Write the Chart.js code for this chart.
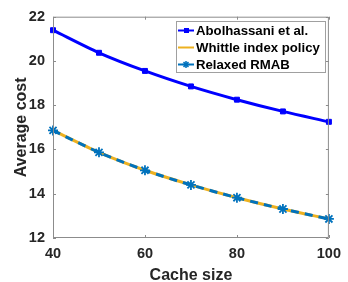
<!DOCTYPE html>
<html>
<head>
<meta charset="utf-8">
<script src="https://cdn.jsdelivr.net/npm/chart.js@4"></script>
<style>
  html, body { margin: 0; padding: 0; background: #fff; }
  #wrap { width: 348px; height: 282px; }
</style>
</head>
<body>
<div id="wrap"><canvas id="costChart" width="348" height="282"></canvas></div>
<script>
const cacheSizes = [40, 50, 60, 70, 80, 90, 100];
const abolhassaniCost = [21.39, 20.37, 19.55, 18.85, 18.25, 17.72, 17.25];
const whittleCost = [16.86, 15.87, 15.06, 14.4, 13.82, 13.31, 12.86];
const relaxedCost = [16.86, 15.87, 15.06, 14.4, 13.82, 13.31, 12.86];
const xTicks = [40, 60, 80, 100];
const yTicks = [12, 14, 16, 18, 20, 22];

const axisColor = "#8c8c8c";
const textColor = "#262626";
const fontFamily = "'Liberation Sans', Arial, sans-serif";

// box round the plot and MATLAB style inward ticks
const boxPlugin = {
  id: "box",
  afterDatasetsDraw(chart) {
    const { ctx, chartArea: a, scales } = chart;
    ctx.save();
    ctx.strokeStyle = axisColor;
    ctx.lineWidth = 1;
    ctx.beginPath();
    ctx.moveTo(a.left + 0.5, a.top + 0.5);
    ctx.lineTo(a.right - 0.5, a.top + 0.5);
    ctx.lineTo(a.right - 0.5, a.bottom - 0.5);
    ctx.moveTo(a.left + 0.5, a.top + 0.5);
    ctx.lineTo(a.left + 0.5, a.bottom - 0.5);
    ctx.lineTo(a.right - 0.5, a.bottom - 0.5);
    xTicks.forEach(v => {
      const x = Math.round(scales.x.getPixelForValue(v)) + 0.5;
      ctx.moveTo(x, a.bottom); ctx.lineTo(x, a.bottom - 3);
      ctx.moveTo(x, a.top); ctx.lineTo(x, a.top + 3);
    });
    yTicks.forEach(v => {
      const y = Math.round(scales.y.getPixelForValue(v)) + 0.5;
      ctx.moveTo(a.left, y); ctx.lineTo(a.left + 3, y);
      ctx.moveTo(a.right, y); ctx.lineTo(a.right - 3, y);
    });
    ctx.stroke();
    ctx.restore();
  }
};

const legendPlugin = {
  id: "boxLegend",
  afterDraw(chart) {
    const { ctx } = chart;
    const rows = [
      { label: "Abolhassani et al.", color: "#0000ff", marker: "rect" },
      { label: "Whittle index policy", color: "#edb120", marker: null },
      { label: "Relaxed RMAB", color: "#0072bd", marker: "star" }
    ];
    ctx.save();
    ctx.fillStyle = "#fff";
    ctx.fillRect(176, 21, 150, 52);
    ctx.strokeStyle = "#a0a0a0";
    ctx.lineWidth = 1;
    ctx.strokeRect(176.5, 21.5, 149, 51);
    rows.forEach((r, i) => {
      const y = 30.5 + i * 17;
      ctx.strokeStyle = r.color;
      ctx.fillStyle = r.color;
      ctx.lineWidth = 2;
      ctx.beginPath();
      ctx.moveTo(178, y);
      ctx.lineTo(194, y);
      ctx.stroke();
      if (r.marker === "rect") ctx.fillRect(184, y - 2.5, 5, 5);
      if (r.marker === "star") {
        ctx.lineWidth = 1.5;
        Chart.helpers.drawPoint(ctx, { pointStyle: "star", radius: 3.5, borderWidth: 1.5 }, 186, y);
      }
      ctx.fillStyle = "#000";
      ctx.font = "bold 13.2px " + fontFamily;
      ctx.textBaseline = "middle";
      ctx.fillText(r.label, 196, y + 0.5);
    });
    ctx.restore();
  }
};

new Chart(document.getElementById("costChart"), {
  type: "line",
  data: {
    labels: cacheSizes,
    datasets: [
      {
        label: "Abolhassani et al.",
        data: abolhassaniCost,
        borderColor: "#0000ff",
        backgroundColor: "#0000ff",
        borderWidth: 3,
        pointStyle: "rect",
        pointRadius: 3.5,
        pointBorderWidth: 1,
        tension: 0.3,
        order: 0
      },
      {
        label: "Whittle index policy",
        data: whittleCost,
        borderColor: "#edb120",
        backgroundColor: "#edb120",
        borderWidth: 3,
        pointRadius: 0,
        tension: 0.3,
        order: 2
      },
      {
        label: "Relaxed RMAB",
        data: relaxedCost,
        borderColor: "#0072bd",
        backgroundColor: "#0072bd",
        borderWidth: 3,
        borderDash: [8, 6],
        pointStyle: "star",
        pointRadius: 5,
        pointBorderWidth: 1.8,
        tension: 0.3,
        order: 1
      }
    ]
  },
  options: {
    responsive: false,
    animation: false,
    clip: false,
    layout: { padding: { left: 0, right: 13, top: 12, bottom: 0 } },
    plugins: { legend: { display: false }, tooltip: { enabled: false } },
    scales: {
      x: {
        type: "linear",
        min: 40,
        max: 100,
        afterFit: s => { s.height = 44; },
        afterBuildTicks: s => { s.ticks = xTicks.map(v => ({ value: v })); },
        grid: { display: false, drawTicks: false },
        border: { display: false },
        ticks: {
          color: textColor,
          padding: 7,
          maxRotation: 0,
          font: { family: fontFamily, size: 14.5, weight: "bold" }
        },
        title: {
          display: true,
          text: "Cache size",
          color: textColor,
          padding: { top: 0, bottom: -3 },
          font: { family: fontFamily, size: 16, weight: "bold" }
        }
      },
      y: {
        min: 12,
        max: 22,
        afterFit: s => { s.width = 53; },
        afterBuildTicks: s => { s.ticks = yTicks.map(v => ({ value: v })); },
        grid: { display: false, drawTicks: false },
        border: { display: false },
        ticks: {
          color: textColor,
          padding: 8,
          font: { family: fontFamily, size: 14.5, weight: "bold" }
        },
        title: {
          display: true,
          text: "Average cost",
          color: textColor,
          padding: { top: 12, bottom: 0 },
          font: { family: fontFamily, size: 16, weight: "bold" }
        }
      }
    }
  },
  plugins: [boxPlugin, legendPlugin]
});
</script>
</body>
</html>
